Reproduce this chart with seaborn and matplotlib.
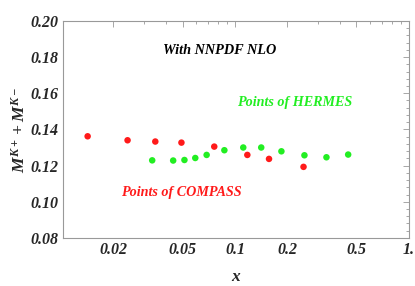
import matplotlib
matplotlib.use("Agg")
import matplotlib.pyplot as plt
import numpy as np
import pandas as pd
import seaborn as sns
from matplotlib import ticker

# COMPASS points
compass_x = [0.0142, 0.0241, 0.0348, 0.0492, 0.076, 0.1178, 0.157, 0.248]
compass_y = [0.1362, 0.1340, 0.1333, 0.1327, 0.1305, 0.1259, 0.1237, 0.1193]

# HERMES points
hermes_x = [0.0334, 0.0441, 0.0512, 0.0591, 0.0687, 0.0869, 0.1116, 0.1416,
            0.185, 0.251, 0.336, 0.448]
hermes_y = [0.1229, 0.1228, 0.1231, 0.1242, 0.1259, 0.1285, 0.1300, 0.1300,
            0.1279, 0.1257, 0.1246, 0.1261]

xticks = [0.02, 0.05, 0.1, 0.2, 0.5, 1.0]
xticklabels = ["0.02", "0.05", "0.1", "0.2", "0.5", "1."]
yticks = [0.08, 0.10, 0.12, 0.14, 0.16, 0.18, 0.20]

sns.set_style("white")
plt.rcParams["font.family"] = ["Liberation Serif", "DejaVu Serif"]
plt.rcParams["mathtext.fontset"] = "custom"
plt.rcParams["mathtext.rm"] = "Liberation Serif:bold:italic"
plt.rcParams["mathtext.it"] = "Liberation Serif:bold:italic"
plt.rcParams["mathtext.bf"] = "Liberation Serif:bold:italic"

dfc = pd.DataFrame({"x": compass_x, "y": compass_y})
dfh = pd.DataFrame({"x": hermes_x, "y": hermes_y})

fig, ax = plt.subplots(figsize=(4.15, 2.86), dpi=100)
fig.subplots_adjust(left=0.151, right=0.985, top=0.927, bottom=0.168)

sns.scatterplot(data=dfc, x="x", y="y", ax=ax, color="#ff1a1a", s=22,
                edgecolor="none", zorder=3)
sns.scatterplot(data=dfh, x="x", y="y", ax=ax, color="#22ee22", s=22,
                edgecolor="none", zorder=3)

ax.set_xscale("log")
ax.set_xlim(0.0102, 1.0)
ax.set_ylim(0.08, 0.20)

ax.set_xticks(xticks)
ax.set_xticklabels(xticklabels)
ax.xaxis.set_minor_locator(ticker.LogLocator(base=10, subs=np.arange(2, 10)))
ax.xaxis.set_minor_formatter(ticker.NullFormatter())
ax.set_yticks(yticks)
ax.set_yticklabels(["%.2f" % v for v in yticks])
ax.yaxis.set_minor_locator(ticker.MultipleLocator(0.004))

for sp in ax.spines.values():
    sp.set_color("#999999")
    sp.set_linewidth(0.8)

ax.tick_params(which="both", direction="in", top=True, right=True,
               color="#999999", width=0.6)
ax.tick_params(which="major", length=4, labelsize=11.5, pad=3)
ax.tick_params(which="minor", length=2)
for lab in ax.get_xticklabels() + ax.get_yticklabels():
    lab.set_fontweight("bold")
    lab.set_fontstyle("italic")

ax.set_xlabel("x", fontsize=12.5, fontweight="bold", fontstyle="italic",
              labelpad=8)
ax.set_ylabel(r"$M^{K+}+M^{K-}$", fontsize=12.5, labelpad=1)

ax.text(0.0817, 0.1838, "With NNPDF NLO", fontsize=10.3,
        fontweight="bold", fontstyle="italic", color="black",
        ha="center", va="center")
ax.text(0.220, 0.1547, "Points of HERMES", fontsize=10.2,
        fontweight="bold", fontstyle="italic", color="#22ee22",
        ha="center", va="center")
ax.text(0.0494, 0.1054, "Points of COMPASS", fontsize=10.2,
        fontweight="bold", fontstyle="italic", color="#ff1a1a",
        ha="center", va="center")

fig.savefig("out.png", dpi=100)
